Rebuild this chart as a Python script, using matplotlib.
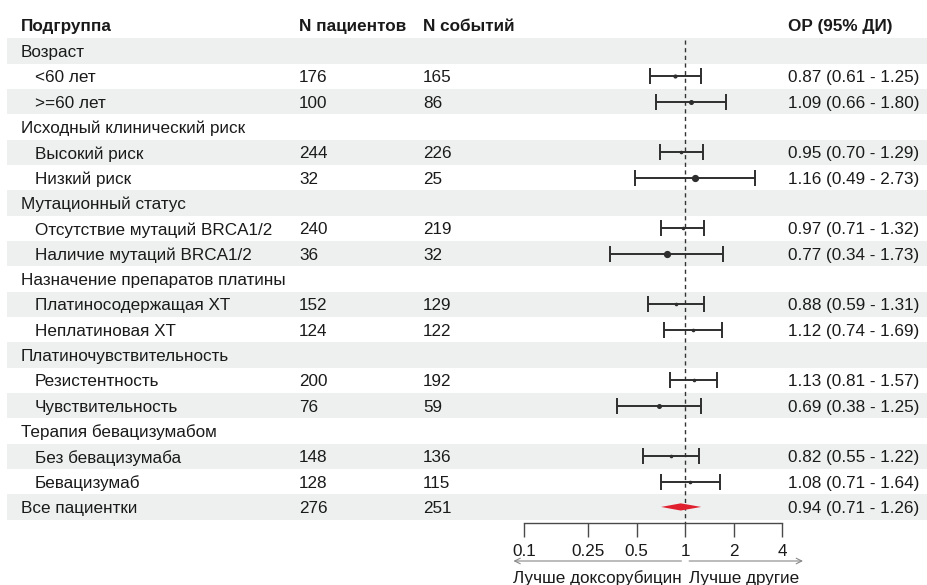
import matplotlib
matplotlib.use("Agg")
import matplotlib.pyplot as plt
from matplotlib.patches import Rectangle

plt.rcParams['font.family'] = ['Liberation Sans', 'DejaVu Sans']

# ---------------- data ----------------
headers = ["Подгруппа", "N пациентов", "N событий", "ОР (95% ДИ)"]
row_labels = ["Возраст", "<60 лет", ">=60 лет",
              "Исходный клинический риск", "Высокий риск", "Низкий риск",
              "Мутационный статус", "Отсутствие мутаций BRCA1/2", "Наличие мутаций BRCA1/2",
              "Назначение препаратов платины", "Платиносодержащая ХТ", "Неплатиновая ХТ",
              "Платиночувствительность", "Резистентность", "Чувствительность",
              "Терапия бевацизумабом", "Без бевацизумаба", "Бевацизумаб",
              "Все пациентки"]
is_group = [True, False, False, True, False, False, True, False, False,
            True, False, False, True, False, False, True, False, False, False]
n_patients = [None, 176, 100, None, 244, 32, None, 240, 36, None, 152, 124,
              None, 200, 76, None, 148, 128, 276]
n_events = [None, 165, 86, None, 226, 25, None, 219, 32, None, 129, 122,
            None, 192, 59, None, 136, 115, 251]
hr = [None, 0.87, 1.09, None, 0.95, 1.16, None, 0.97, 0.77, None, 0.88, 1.12,
      None, 1.13, 0.69, None, 0.82, 1.08, 0.94]
ci_low = [None, 0.61, 0.66, None, 0.70, 0.49, None, 0.71, 0.34, None, 0.59, 0.74,
          None, 0.81, 0.38, None, 0.55, 0.71, 0.71]
ci_high = [None, 1.25, 1.80, None, 1.29, 2.73, None, 1.32, 1.73, None, 1.31, 1.69,
           None, 1.57, 1.25, None, 1.22, 1.64, 1.26]
summary_row = 18
tick_values = [0.1, 0.25, 0.5, 1, 2, 4]
tick_labels = ["0.1", "0.25", "0.5", "1", "2", "4"]
arrow_labels = ["Лучше доксорубицин", "Лучше другие"]

# marker sizes (style)
marker_sizes = [0, 2.0, 2.6, 0, 1.6, 4.2, 0, 1.6, 4.2, 0, 1.6, 1.6,
                0, 1.6, 2.6, 0, 1.6, 1.6, 0]

# ---------------- layout ----------------
W, H = 928, 585
FS = 12.3
TXT = '#1a1a1a'
SHADE = '#eef0f0'
LINE = '#2e2e2e'
VA = 'center_baseline'
y_header = 25
y0 = 51
dy = 25.33
col_label = 21
col_indent = 35
col_np = 299
col_ne = 423
col_hr = 788
fx0, fx1 = 524, 782  # pixel positions of 0.1 and 4

fig = plt.figure(figsize=(W / 100, H / 100), dpi=100)
ax = fig.add_axes([0, 0, 1, 1])
ax.set_xlim(0, W)
ax.set_ylim(H, 0)
ax.axis('off')

ys = [y0 + i * dy for i in range(len(row_labels))]

for i, y in enumerate(ys):
    if i % 2 == 0:
        ax.add_patch(Rectangle((7, y - dy / 2), W - 7, dy, color=SHADE, lw=0, zorder=0))

for x, t in zip([col_label, col_np, col_ne, col_hr], headers):
    ax.text(x, y_header, t, fontsize=FS, fontweight='bold', va=VA, color=TXT)

for i, y in enumerate(ys):
    x = col_label if (is_group[i] or i == summary_row) else col_indent
    ax.text(x, y, row_labels[i], fontsize=FS, va=VA, color=TXT)
    if n_patients[i] is not None:
        ax.text(col_np, y, str(n_patients[i]), fontsize=FS, va=VA, color=TXT)
        ax.text(col_ne, y, str(n_events[i]), fontsize=FS, va=VA, color=TXT)
    if hr[i] is not None:
        ax.text(col_hr, y, f"{hr[i]:.2f} ({ci_low[i]:.2f} - {ci_high[i]:.2f})",
                fontsize=FS, va=VA, color=TXT)

# ---------------- forest axes ----------------
fa = fig.add_axes([fx0 / W, 0, (fx1 - fx0) / W, 1])
fa.patch.set_alpha(0)
fa.set_xscale('log')
fa.set_xlim(0.1, 4)
fa.set_ylim(H, 0)
for s in ['top', 'left', 'right']:
    fa.spines[s].set_visible(False)
fa.spines['bottom'].set_position(('data', 523))
fa.spines['bottom'].set_color('#4a4a4a')
fa.spines['bottom'].set_linewidth(1.0)
fa.set_yticks([])
fa.set_xticks(tick_values)
fa.set_xticklabels(tick_labels)
fa.minorticks_off()
fa.tick_params(axis='x', direction='out', length=10, width=1.0, color='#4a4a4a',
               labelsize=FS, labelcolor=TXT, pad=5)

fa.vlines(1, 40, 523, colors='#333333', linestyles=(0, (3, 2.5)), lw=1.0, zorder=3)

for i, y in enumerate(ys):
    if hr[i] is None or i == summary_row:
        continue
    fa.errorbar([hr[i]], [y], xerr=[[hr[i] - ci_low[i]], [ci_high[i] - hr[i]]],
                fmt='o', color=LINE, ms=marker_sizes[i], elinewidth=1.4,
                capsize=5.5, capthick=1.4, zorder=4)

ys_s = ys[summary_row]
h = 3.6
fa.fill([ci_low[summary_row], hr[summary_row], ci_high[summary_row], hr[summary_row]],
        [ys_s, ys_s - h, ys_s, ys_s + h], color='#e0202e', lw=0, zorder=4)

# arrows
arrow_y = 561
fa.annotate('', xy=(0.086, arrow_y), xytext=(0.95, arrow_y),
            arrowprops=dict(arrowstyle='->', color='#888888', lw=0.8,
                            shrinkA=0, shrinkB=0), annotation_clip=False)
fa.annotate('', xy=(5.4, arrow_y), xytext=(1.06, arrow_y),
            arrowprops=dict(arrowstyle='->', color='#888888', lw=0.8,
                            shrinkA=0, shrinkB=0), annotation_clip=False)
fa.text(0.086, 577, arrow_labels[0], fontsize=FS, va=VA, ha='left', color=TXT)
fa.text(1.06, 577, arrow_labels[1], fontsize=FS, va=VA, ha='left', color=TXT)

fig.savefig('out.png', dpi=100)
